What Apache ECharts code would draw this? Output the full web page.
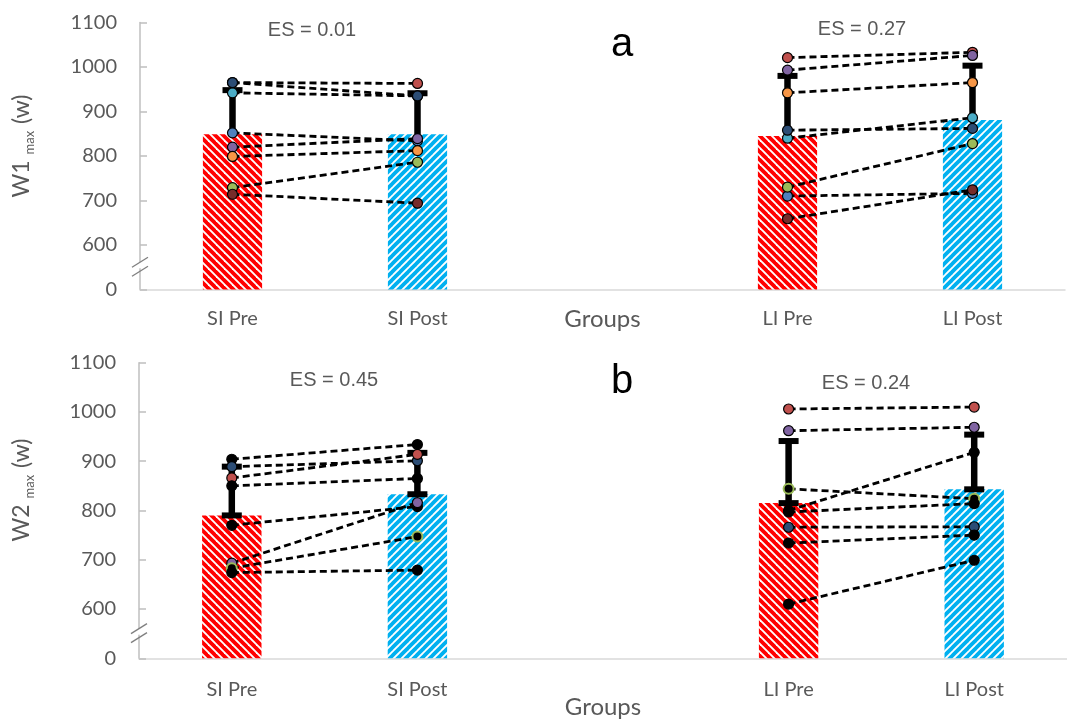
<!DOCTYPE html>
<html><head><meta charset="utf-8">
<script src="https://cdn.jsdelivr.net/npm/echarts@6/dist/echarts.min.js"></script>
<style>html,body{margin:0;padding:0;background:#fff}#c{width:1067px;height:722px}</style>
</head><body><div id="c"></div>
<script>
// ---------- data ----------
const categories = ['SI Pre', 'SI Post', '', 'LI Pre', 'LI Post'];
const yTickValues = [500, 600, 700, 800, 900, 1000, 1100];
const yTickLabels = ['0', '600', '700', '800', '900', '1000', '1100'];

// panel a (W1 max)
const aMeans = [849, 849, null, 845, 881];
const aErrTop = [948, 941, null, 980, 1003];
const aSIPre = [852, 965, 729, 820, 942, 799, 965, 714];
const aSIPost = [834, 963, 786, 839, 935, 812, 935, 694];
const aSIFill = ['#4F81BD', '#C0504D', '#9BBB59', '#8064A2', '#4BACC6', '#F79646', '#2C4D75', '#772C2A'];
const aSIBorder = ['#000', '#000', '#000', '#000', '#000', '#000', '#000', '#000'];
const aLIPre = [710, 1021, 730, 993, 840, 942, 858, 659];
const aLIPost = [716, 1033, 828, 1026, 886, 965, 862, 724];
const aLIFill = ['#4F81BD', '#C0504D', '#9BBB59', '#8064A2', '#4BACC6', '#F79646', '#2C4D75', '#772C2A'];
const aLIBorder = ['#000', '#000', '#000', '#000', '#000', '#000', '#000', '#000'];

// panel b (W2 max)
const bMeans = [790, 833, null, 815, 843];
const bErrTop = [889, 917, null, 941, 954];
const bSIPre = [904, 889, 866, 850, 770, 693, 683, 674];
const bSIPost = [934, 901, 914, 865, 808, 816, 747, 679];
const bSIFill = ['#000', '#2C4D75', '#C0504D', '#000', '#000', '#8064A2', '#000', '#000'];
const bSIBorder = ['#000', '#000', '#000', '#000', '#000', '#000', '#9BBB59', '#000'];
const bLIPre = [1006, 962, 844, 800, 797, 766, 734, 610];
const bLIPost = [1010, 969, 824, 918, 814, 767, 750, 699];
const bLIFill = ['#C0504D', '#8064A2', '#000', '#000', '#000', '#2C4D75', '#000', '#000'];
const bLIBorder = ['#000', '#000', '#9BBB59', '#000', '#000', '#000', '#000', '#000'];

const esTexts = ['ES = 0.01', 'ES = 0.27', 'ES = 0.45', 'ES = 0.24'];
const panelLetters = ['a', 'b'];

// ---------- helpers ----------
function stripes(color, dir) {
  const s = 8, c = document.createElement('canvas');
  c.width = s; c.height = s;
  const g = c.getContext('2d');
  g.strokeStyle = color; g.lineWidth = 3.8; g.lineCap = 'square';
  for (let k = -1; k <= 1; k++) {
    g.beginPath();
    if (dir === 'down') { g.moveTo(k * s, 0); g.lineTo(k * s + s, s); }
    else { g.moveTo(k * s, s); g.lineTo(k * s + s, 0); }
    g.stroke();
  }
  return { image: c, repeat: 'repeat' };
}
const redPat = stripes('#FF0000', 'down');
const bluePat = stripes('#00B0F0', 'up');
const barPats = [redPat, bluePat, null, redPat, bluePat];

const axisFont = 'Lato, "Open Sans", sans-serif';

function barSeries(means, idx) {
  return {
    type: 'bar', xAxisIndex: idx, yAxisIndex: idx, barWidth: '32%', z: 1,
    data: means.map((v, i) => v == null ? '-' : { value: v, itemStyle: { color: barPats[i] } }),
    silent: true
  };
}
function errSeries(means, tops, idx, bothCaps) {
  const data = [];
  means.forEach((m, i) => { if (m != null) data.push([i, m, tops[i]]); });
  return {
    type: 'custom', xAxisIndex: idx, yAxisIndex: idx, z: 2, silent: true,
    encode: { x: 0, y: [1, 2] },
    data: data,
    renderItem: function (params, api) {
      const x = api.value(0);
      const p0 = api.coord([x, api.value(1)]);
      const p1 = api.coord([x, api.value(2)]);
      const ch = [
        { type: 'line', shape: { x1: p0[0], y1: p0[1], x2: p1[0], y2: p1[1] }, style: { stroke: '#000', lineWidth: 6.5 } },
        { type: 'rect', shape: { x: p1[0] - 10, y: p1[1] - 3, width: 20, height: 6 }, style: { fill: '#000' } }
      ];
      if (bothCaps) ch.push({ type: 'rect', shape: { x: p0[0] - 10, y: p0[1] - 3, width: 20, height: 6 }, style: { fill: '#000' } });
      return { type: 'group', children: ch };
    }
  };
}
function subjSeries(pre, post, fill, border, startIdx, idx) {
  return pre.map((v, k) => {
    const d = ['-', '-', '-', '-', '-'];
    d[startIdx] = v; d[startIdx + 1] = post[k];
    return {
      type: 'line', xAxisIndex: idx, yAxisIndex: idx, z: 3, silent: true,
      data: d, symbol: 'circle', symbolSize: 10, showSymbol: true,
      itemStyle: { color: fill[k], borderColor: border[k], borderWidth: border[k] === '#000' ? 1.2 : 2 },
      lineStyle: { color: '#000', width: 2.8, type: [7, 4] }
    };
  });
}
function xAx(idx, margin, nameGap) {
  return {
    type: 'category', gridIndex: idx, data: categories,
    axisLine: { lineStyle: { color: '#D9D9D9', width: 1.5 } },
    axisTick: { show: false },
    axisLabel: { color: '#595959', fontSize: 20, fontFamily: axisFont, margin: margin, interval: 0 },
    name: 'Groups', nameLocation: 'middle', nameGap: nameGap, nameMoveOverlap: false,
    nameTextStyle: { color: '#595959', fontSize: 24, fontFamily: axisFont }
  };
}
function yAx(idx) {
  return {
    type: 'value', gridIndex: idx, min: yTickValues[0], max: yTickValues[yTickValues.length - 1], interval: 100,
    axisLine: { show: true, lineStyle: { color: '#BFBFBF', width: 1.5 } },
    axisTick: { show: true, inside: true, length: 7, lineStyle: { color: '#BFBFBF', width: 1.5 } },
    splitLine: { show: false },
    axisLabel: {
      color: '#595959', fontSize: 20, fontFamily: axisFont, margin: 23,
      formatter: v => yTickLabels[yTickValues.indexOf(v)]
    }
  };
}

const chart = echarts.init(document.getElementById('c'), null, { renderer: 'canvas' });
const option = {
  animation: false,
  backgroundColor: '#fff',
  grid: [
    { left: 140, top: 22.5, width: 925, height: 267 },
    { left: 139, top: 362.7, width: 937.5, height: 295.6 }
  ],
  xAxis: [xAx(0, 19, 18), xAx(1, 21, 37)],
  yAxis: [yAx(0), yAx(1)],
  series: [
    barSeries(aMeans, 0), errSeries(aMeans, aErrTop, 0, false),
    ...subjSeries(aSIPre, aSIPost, aSIFill, aSIBorder, 0, 0),
    ...subjSeries(aLIPre, aLIPost, aLIFill, aLIBorder, 3, 0),
    barSeries(bMeans, 1), errSeries(bMeans, bErrTop, 1, true),
    ...subjSeries(bSIPre, bSIPost, bSIFill, bSIBorder, 0, 1),
    ...subjSeries(bLIPre, bLIPost, bLIFill, bLIBorder, 3, 1)
  ]
};
chart.setOption(option);

// decorations: texts, axis-break marks
function breakMark(idx) {
  const x = idx === 0 ? 140 : 139;
  const y = chart.convertToPixel({ yAxisIndex: idx }, 550);
  const mk = dy => ({ type: 'line', shape: { x1: x - 8, y1: y + dy + 5, x2: x + 8, y2: y + dy - 5 }, style: { stroke: '#7F7F7F', lineWidth: 1.3 }, z: 10 });
  return [
    { type: 'rect', shape: { x: x - 3, y: y - 5, width: 6, height: 6 }, style: { fill: '#fff' }, z: 9 },
    mk(-5), mk(4)
  ];
}
const esFont = '"Liberation Sans", Arial, sans-serif';
function txt(s, x, y, size, color) {
  return { type: 'text', x: x, y: y, z: 20, style: { text: s, fill: color, font: size + 'px ' + esFont, textAlign: 'center', textVerticalAlign: 'middle' } };
}
function yTitle(num, x, y) {
  return {
    type: 'text', x: x, y: y, rotation: Math.PI / 2, z: 20,
    style: {
      text: '{m|W' + num + ' }{s|max}{m| (w)}', textAlign: 'center', textVerticalAlign: 'middle', fill: '#595959',
      rich: {
        m: { fontSize: 23, fontFamily: axisFont, fill: '#595959', lineHeight: 28 },
        s: { fontSize: 13, fontFamily: axisFont, fill: '#595959', verticalAlign: 'bottom', lineHeight: 12, padding: [0, 1, 0, 0] }
      }
    }
  };
}
chart.setOption({
  graphic: [
    ...breakMark(0), ...breakMark(1),
    txt(esTexts[0], 312, 30, 20, '#595959'),
    txt(esTexts[1], 862, 29, 20, '#595959'),
    txt(esTexts[2], 334, 380, 20, '#595959'),
    txt(esTexts[3], 866, 383, 20, '#595959'),
    txt(panelLetters[0], 622, 45, 40, '#000'),
    txt(panelLetters[1], 622, 382, 40, '#000'),
    yTitle(1, 22, 146), yTitle(2, 22, 490)
  ]
});
</script></body></html>
